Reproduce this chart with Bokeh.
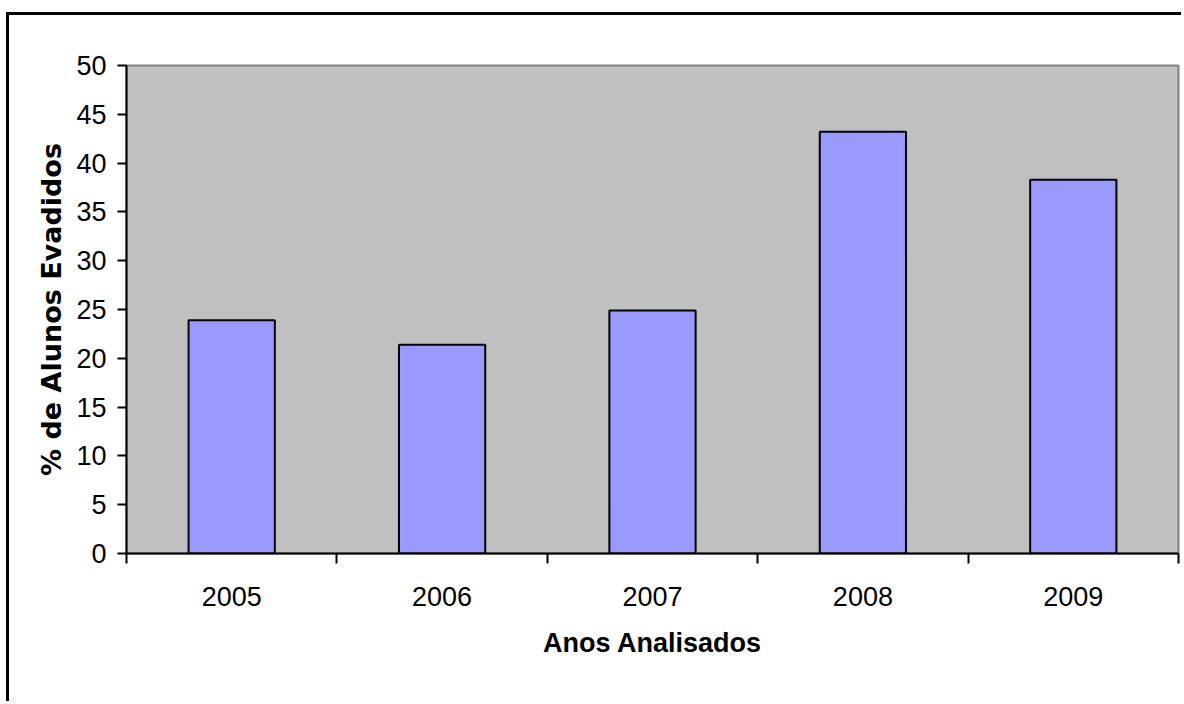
from bokeh.plotting import figure
from bokeh.models import FixedTicker, Range1d, ColumnDataSource
from bokeh.embed import file_html
from bokeh.resources import INLINE

# ---- data ----
years = ["2005", "2006", "2007", "2008", "2009"]
evadidos = [23.9, 21.4, 24.9, 43.2, 38.3]
y_ticks = [0, 5, 10, 15, 20, 25, 30, 35, 40, 45, 50]

x_pos = [i + 0.5 for i in range(len(years))]
src = ColumnDataSource(dict(x=x_pos, top=evadidos, year=years))

OFF_X, OFF_Y = 9, 15
W, H = 1184 - OFF_X, 704 - OFF_Y

p = figure(width=W, height=H, output_backend="svg", toolbar_location=None,
           x_range=Range1d(0, len(years)), y_range=Range1d(0, 50),
           min_border_left=126 - OFF_X, min_border_right=(W - (1178 - OFF_X)),
           min_border_top=65 - OFF_Y, min_border_bottom=H - (553 - OFF_Y))

p.styles = {"border-left": "3px solid black", "border-top": "3px solid black",
            "margin-left": "6px", "margin-top": "12px"}

p.background_fill_color = "#C0C0C0"
p.border_fill_color = "white"
p.outline_line_color = "#808080"
p.outline_line_width = 2
p.xgrid.visible = False
p.ygrid.visible = False

p.vbar(x="x", top="top", width=0.41, bottom=0, source=src,
       fill_color="#9999FF", line_color="black", line_width=2)

# x axis: labels at category centers, ticks at boundaries (minor ticks)
xa = p.xaxis[0]
xa.ticker = FixedTicker(ticks=x_pos, minor_ticks=list(range(len(years) + 1)))
xa.major_label_overrides = {x: y for x, y in zip(x_pos, years)}
xa.major_tick_out = 0
xa.major_tick_in = 0
xa.minor_tick_out = 10
xa.minor_tick_in = 0
xa.minor_tick_line_color = "black"
xa.minor_tick_line_width = 2
xa.axis_line_color = "black"
xa.axis_line_width = 2
xa.major_label_text_font = "Liberation Sans"
xa.major_label_text_font_size = "27px"
xa.major_label_text_color = "black"
xa.major_label_standoff = 23
xa.axis_label = "Anos Analisados"
xa.axis_label_text_font = "Liberation Sans"
xa.axis_label_text_font_style = "bold"
xa.axis_label_text_font_size = "27px"
xa.axis_label_text_color = "black"
xa.axis_label_standoff = 19

ya = p.yaxis[0]
ya.ticker = FixedTicker(ticks=y_ticks, minor_ticks=[])
ya.major_tick_out = 9
ya.major_tick_in = 0
ya.major_tick_line_color = "black"
ya.major_tick_line_width = 2
ya.axis_line_color = "black"
ya.axis_line_width = 2
ya.major_label_text_font = "Liberation Sans"
ya.major_label_text_font_size = "27px"
ya.major_label_text_color = "black"
ya.major_label_standoff = 11
ya.axis_label = "% de Alunos Evadidos"
ya.axis_label_text_font = "DejaVu Sans"
ya.axis_label_text_font_style = "bold"
ya.axis_label_text_font_size = "27px"
ya.axis_label_text_color = "black"
ya.axis_label_standoff = 6

open("out.html", "w").write(file_html(p, INLINE))
